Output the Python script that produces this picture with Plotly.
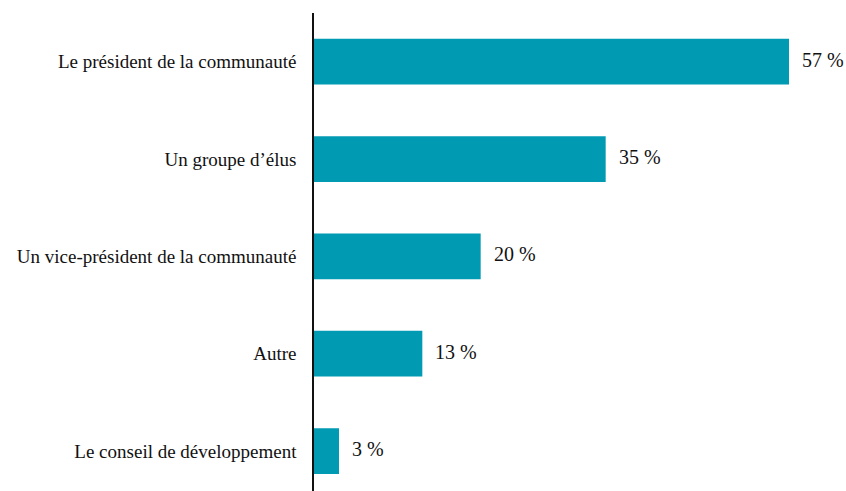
import plotly.graph_objects as go

categories = [
    "Le président de la communauté",
    "Un groupe d’élus",
    "Un vice-président de la communauté",
    "Autre",
    "Le conseil de développement",
]
values = [57, 35, 20, 13, 3]
value_labels = ["57 %", "35 %", "20 %", "13 %", "3 %"]

positions = list(range(len(categories)))
bar_color = "#009AB3"
serif = "Liberation Serif, Times New Roman, serif"

fig = go.Figure(
    go.Bar(
        x=values,
        y=positions,
        orientation="h",
        width=0.47,
        marker=dict(color=bar_color, line=dict(width=0)),
        hoverinfo="skip",
    )
)

for pos, val, lab in zip(positions, values, value_labels):
    fig.add_annotation(
        x=val, y=pos, text=lab, showarrow=False,
        xanchor="left", yanchor="middle", xshift=11, yshift=2,
        font=dict(family=serif, size=20, color="#111111"),
    )

fig.update_layout(
    width=846, height=491,
    margin=dict(l=314, r=0, t=13, b=0),
    paper_bgcolor="white", plot_bgcolor="white",
    showlegend=False,
    xaxis=dict(range=[0, 63.84], visible=False, fixedrange=True),
    yaxis=dict(
        range=[4.41, -0.5],
        tickmode="array", tickvals=positions, ticktext=categories,
        showline=True, linecolor="#111111", linewidth=1.5,
        showgrid=False, zeroline=False, ticks="",
        ticklabelstandoff=12,
        tickfont=dict(family=serif, size=19, color="#111111"),
    ),
)

fig.write_html("out.html")
